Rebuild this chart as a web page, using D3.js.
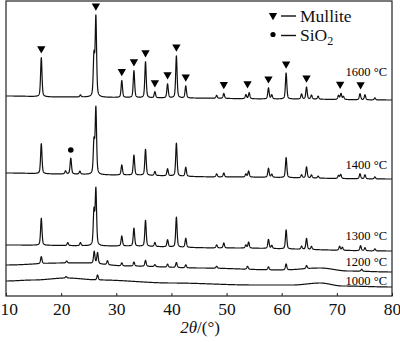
<!DOCTYPE html>
<html><head><meta charset="utf-8">
<script src="https://cdn.jsdelivr.net/npm/d3@7"></script>
<style>html,body{margin:0;padding:0;background:#fff;}svg{display:block;}</style>
</head><body>
<svg id="c" width="400" height="342"></svg>
<script>
// ---- data (2θ in degrees, intensity in arbitrary offset units) ----
const xTicks = [10, 20, 30, 40, 50, 60, 70, 80];
const seriesNames = ["1600 °C", "1400 °C", "1300 °C", "1200 °C", "1000 °C"];

const baseline1600 = [[10,200],[20,199],[40,198],[60,197],[80,196]];
const baseline1400 = [[10,123],[20,122],[30,121],[50,119],[80,117]];
const baseline1300 = [[10,51],[30,50],[50,48],[80,45]];
const baseline1200 = [[10,31],[20,33],[24,33],[32,30],[45,28],[60,26],[67,28],[72,25],[80,24]];
const baseline1000 = [[10,15],[15,16],[21,18],[27,16],[40,13],[55,11],[62,11],[67,13],[71,10],[80,9]];

const peaks1600 = [[16.4,39],[23.5,2],[25.95,40],[26.3,79],[31.0,17],[33.2,27],[35.3,36],[37.0,6],[39.3,14],[40.9,42],[42.6,12],[48.2,3],[49.5,5],[53.5,4],[54.1,6],[57.6,11],[58.2,4],[60.8,26],[63.6,5],[64.5,12],[65.4,4],[66.6,3],[70.3,4],[70.75,6],[71.2,3],[74.2,6],[75.1,5],[76.9,2]];
const peaks1400 = [[16.4,30],[20.8,3],[21.75,16],[23.4,3],[25.95,32],[26.3,66],[31.0,10],[33.2,20],[35.3,26],[37.0,4],[39.3,7],[40.9,33],[42.6,9],[48.2,3],[49.5,4],[53.5,3],[54.0,6],[57.6,9],[58.2,3],[60.8,20],[63.6,3],[64.5,11],[65.4,3],[66.6,2],[70.3,3],[70.7,4],[74.2,5],[75.1,4],[76.9,2]];
const peaks1300 = [[16.4,27],[21.2,3],[23.5,3],[25.95,34],[26.3,56],[31.0,10],[33.2,18],[35.3,26],[37.0,4],[39.3,7],[40.9,30],[42.6,9],[48.2,3],[49.5,5],[53.5,3],[54.0,6],[57.6,9],[58.2,3],[60.8,19],[63.6,3],[64.5,11],[65.4,3],[70.5,4],[71.0,3],[74.3,5],[75.1,3],[76.9,2]];
const peaks1200 = [[16.4,7],[21.0,2],[26.0,12],[26.6,11],[28.4,4],[31.0,3],[33.2,4],[35.3,6],[37.0,2],[39.3,3],[40.9,5],[42.6,3],[48.2,2],[53.8,3],[57.6,3],[60.8,6],[64.5,3],[74.5,2]];
const peaks1000 = [[20.9,1.5],[26.6,5]];

const mulliteMarks = [16.4, 26.3, 31.0, 33.2, 35.3, 37.0, 39.3, 40.9, 42.6, 49.5, 53.8, 57.6, 60.8, 64.5, 70.6, 74.3];
const silicaMarks = [21.75];

// ---- layout ----
const W = 400, H = 342;
const margin = {left: 6, right: 8, top: 1, bottom: 46};
const svg = d3.select("#c");
const x = d3.scaleLinear().domain([10, 80]).range([margin.left, W - margin.right]);
const y = d3.scaleLinear().domain([0, 295]).range([H - margin.bottom, margin.top]);

const series = [
  {name: seriesNames[0], base: baseline1600, peaks: peaks1600, labelY: 76},
  {name: seriesNames[1], base: baseline1400, peaks: peaks1400, labelY: 169},
  {name: seriesNames[2], base: baseline1300, peaks: peaks1300, labelY: 240},
  {name: seriesNames[3], base: baseline1200, peaks: peaks1200, labelY: 266},
  {name: seriesNames[4], base: baseline1000, peaks: peaks1000, labelY: 285}
];

function baseAt(base, t) {
  for (let i = 0; i < base.length - 1; i++) {
    const [x0, y0] = base[i], [x1, y1] = base[i + 1];
    if (t >= x0 && t <= x1) {
      const u = (t - x0) / (x1 - x0);
      const s = u * u * (3 - 2 * u);
      return y0 + (y1 - y0) * s;
    }
  }
  return base[base.length - 1][1];
}
const fwhm = 0.3, eta = 0.45;
function profile(peaks, t) {
  let s = 0;
  for (const [p, h] of peaks) {
    const d = (t - p) / fwhm;
    s += h * (eta / (1 + 4 * d * d) + (1 - eta) * Math.exp(-4 * Math.LN2 * d * d));
  }
  return s;
}
const grid = d3.range(10, 80.0001, 0.02);
series.forEach(s => {
  s.values = grid.map(t => [t, baseAt(s.base, t) + profile(s.peaks, t)]);
});

const line = d3.line().x(d => x(d[0])).y(d => y(d[1]));
svg.append("g").selectAll("path").data(series).join("path")
  .attr("d", d => line(d.values))
  .attr("fill", "none").attr("stroke", "#111").attr("stroke-width", 1.2)
  .attr("stroke-linejoin", "round");

function topNear(s, t) {
  return d3.max(s.values.filter(v => Math.abs(v[0] - t) < 0.4), v => v[1]);
}
const tri = d3.symbol().type(d3.symbolTriangle).size(30);
svg.append("g").selectAll("path").data(mulliteMarks).join("path")
  .attr("d", tri)
  .attr("transform", t => `translate(${x(t)},${y(topNear(series[0], t)) - 9}) rotate(180)`)
  .attr("fill", "#000");
svg.append("g").selectAll("circle").data(silicaMarks).join("circle")
  .attr("cx", t => x(t)).attr("cy", t => y(topNear(series[1], t)) - 8)
  .attr("r", 2.8).attr("fill", "#000");

// series labels
svg.append("g").selectAll("text").data(series).join("text")
  .attr("x", 387).attr("y", d => d.labelY)
  .attr("text-anchor", "end")
  .attr("font-family", "Liberation Serif, Times New Roman, serif")
  .attr("font-size", 12.5).attr("fill", "#000")
  .text(d => d.name);

// frame
svg.append("rect")
  .attr("x", margin.left).attr("y", margin.top)
  .attr("width", W - margin.right - margin.left)
  .attr("height", H - margin.bottom - margin.top)
  .attr("fill", "none").attr("stroke", "#222").attr("stroke-width", 1.2);

// axis
const ax = svg.append("g").attr("transform", `translate(0,${H - margin.bottom})`)
  .call(d3.axisBottom(x).tickValues(xTicks).tickSizeInner(-3).tickSizeOuter(0).tickPadding(7).tickFormat(d3.format("d")));
ax.select(".domain").remove();
ax.selectAll("line").attr("stroke", "#222");
ax.selectAll("text").attr("font-family", "Liberation Serif, Times New Roman, serif")
  .attr("font-size", 17.5).attr("fill", "#111");
ax.selectAll("text").filter(d => d === 10).attr("text-anchor", "start").attr("dx", -6);

// axis title
const tt = svg.append("text").attr("x", 200).attr("y", 333).attr("text-anchor", "middle")
  .attr("font-family", "Liberation Serif, Times New Roman, serif").attr("font-size", 17).attr("fill", "#111");
tt.append("tspan").attr("font-style", "italic").text("2θ");
tt.append("tspan").text("/(°)");

// legend
const lg = svg.append("g").attr("font-family", "Liberation Serif, Times New Roman, serif").attr("fill", "#111");
lg.append("path").attr("d", tri).attr("transform", "translate(273,15.5) rotate(180)").attr("fill", "#000");
lg.append("line").attr("x1", 281).attr("x2", 296).attr("y1", 16).attr("y2", 16).attr("stroke", "#111").attr("stroke-width", 1.4);
lg.append("text").attr("x", 300).attr("y", 21.5).attr("font-size", 17.5).text("Mullite");
lg.append("circle").attr("cx", 273).attr("cy", 34.5).attr("r", 2.6).attr("fill", "#000");
lg.append("line").attr("x1", 281).attr("x2", 296).attr("y1", 35.5).attr("y2", 35.5).attr("stroke", "#111").attr("stroke-width", 1.4);
const st = lg.append("text").attr("x", 300).attr("y", 41).attr("font-size", 17.5);
st.append("tspan").text("SiO");
st.append("tspan").attr("font-size", 12).attr("dy", 4).text("2");
</script>
</body></html>
